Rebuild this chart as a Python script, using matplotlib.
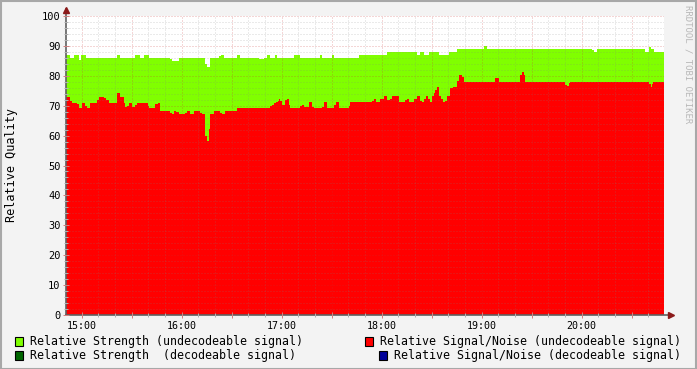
import numpy as np
import matplotlib
matplotlib.use('Agg')
import matplotlib.pyplot as plt
from matplotlib.patches import Rectangle

# time axis in minutes after 15:00
t_start, t_end = -9.4, 349.4

# Relative Strength (undecodeable signal): step change points
strength_t = [-9.4, -7.0, -4.6, -1.6, -0.4, 2.6, 21.2, 23.0, 32.0, 35.0, 37.4, 40.4,
              53.0, 54.2, 58.4, 74.0, 75.2, 77.0, 82.4, 83.6, 85.4, 93.2, 95.0,
              106.4, 109.4, 111.2, 113.0, 116.0, 117.2, 127.4, 131.0, 143.0, 144.2,
              150.2, 151.4, 166.4, 183.2, 201.2, 203.0, 205.4, 208.4, 214.4, 220.4,
              225.2, 241.4, 243.2, 306.2, 307.4, 309.2, 338.0, 340.4, 341.6, 343.4]
strength_v = [87, 86, 87, 85.3, 87, 86, 87, 86, 87, 86, 87, 86,
              85.5, 85, 86, 84, 83, 86, 86.5, 87, 86, 87, 86,
              85.5, 86, 87, 86, 87, 86, 87, 86, 87, 86,
              87, 86, 87, 88, 87, 88, 87, 88, 87, 88,
              89, 90, 89, 88.5, 88, 89, 88, 89.5, 89, 88]

# Relative Signal/Noise (undecodeable signal): step change points
snr_t = [-9.4, -7.0, -5.8, -2.8, -1.6, 0.2, 2.0, 3.2, 5.0, 9.2, 10.4, 13.4, 14.6,
         16.4, 21.2, 23.0, 25.4, 26.0, 27.2, 28.4, 30.2, 32.0, 33.2, 39.8, 40.4,
         44.0, 45.8, 47.0, 53.0, 54.2, 55.4, 56.6, 58.4, 62.0, 63.2, 65.0, 67.4,
         71.0, 72.2, 74.0, 75.2, 76.4, 77.0, 79.4, 83.0, 84.2, 86.0, 93.2,
         113.0, 114.2, 115.4, 116.6, 117.8, 118.4, 119.0, 120.2, 122.0, 123.2,
         124.4, 125.0, 131.0, 132.2, 133.4, 136.4, 138.2, 139.4, 144.2, 145.4,
         147.2, 151.4, 152.6, 154.4, 160.4, 161.0, 174.2, 175.4, 176.6, 179.0,
         181.4, 183.2, 185.0, 186.2, 190.4, 194.0, 195.2, 196.4, 199.4, 201.2,
         203.0, 204.2, 205.4, 206.6, 207.8, 209.0, 210.2, 211.4, 212.0, 213.2,
         214.4, 215.6, 216.8, 218.0, 219.2, 221.0, 222.8, 225.2, 226.4, 228.2,
         229.4, 248.0, 250.4, 263.0, 264.2, 265.4, 266.0, 290.0, 291.2, 292.4,
         293.0, 340.4, 341.6, 342.2, 342.8]
snr_v = [73, 71.5, 71, 70.5, 69.2, 71, 70, 69.2, 71, 72, 73, 72.7, 72,
         71, 74.2, 73, 71, 69.5, 70, 71, 69.5, 70.3, 71, 70, 69.2,
         70.7, 71, 68.2, 67.6, 67.3, 68.2, 67.9, 67.3, 67.6, 68.2, 67.3, 68.2,
         67.6, 67.3, 60, 58.2, 62.2, 67.3, 68.2, 67.6, 67.3, 68.2, 69.2,
         69.9, 70.2, 70.9, 71.2, 71.5, 72.2, 71.5, 70.2, 71.9, 72.2,
         70.2, 69.2, 69.9, 70.2, 69.6, 71.2, 69.6, 69.2, 69.6, 71.2,
         69.2, 70.2, 71.2, 69.2, 69.9, 71.2, 71.5, 72.2, 71.2, 72.2,
         73.2, 71.9, 72.2, 73.2, 71.2, 71.9, 72.2, 71.2, 72.2, 73.2,
         71.5, 71.2, 72.2, 73.2, 72.2, 71.2, 73.2, 74.2, 75.2, 76.3,
         73.2, 72.2, 71.2, 71.5, 73.2, 76, 76.3, 78.3, 80.3, 79.6,
         78, 79.3, 78, 80.3, 81.3, 80.3, 78, 77, 76.6, 77.6,
         78, 77.3, 76.3, 77.3, 78]

hour_labels = ['15:00', '16:00', '17:00', '18:00', '19:00', '20:00']

legend_left = ['Relative Strength (undecodeable signal)',
               'Relative Strength  (decodeable signal)']
legend_right = ['Relative Signal/Noise (undecodeable signal)',
                'Relative Signal/Noise (decodeable signal)']
col_left = ['#80ff00', '#006600']
col_right = ['#ff0000', '#000099']

mono = 'DejaVu Sans Mono'
W, H = 697, 369


def steps(t, v):
    return np.append(t, t_end), np.append(v, v[-1])


fig = plt.figure(figsize=(W / 100, H / 100), dpi=100, facecolor='#f3f3f3')
ax = fig.add_axes([66 / W, 1 - 315 / H, 598 / W, 299 / H])
ax.set_facecolor('white')

x, y = steps(strength_t, strength_v)
ax.fill_between(x, 0, y, step='post', color='#80ff00', lw=0, antialiased=False)
x, y = steps(snr_t, snr_v)
ax.fill_between(x, 0, y, step='post', color='#ff0000', lw=0, antialiased=False)

ax.set_xlim(t_start, t_end)
ax.set_ylim(0, 100)

major_x = np.arange(0, 331, 30)
ax.set_xticks(major_x)
ax.set_xticklabels([hour_labels[int(m // 60)] if m % 60 == 0 else '' for m in major_x],
                   fontfamily=mono, fontsize=7.2)
ax.set_xticks(np.arange(0, 341, 10), minor=True)
ax.set_yticks(np.arange(0, 101, 10))
ax.set_yticklabels([str(v) for v in range(0, 101, 10)], fontfamily=mono, fontsize=7.5)
ax.set_yticks(np.arange(0, 101, 2), minor=True)

ax.set_axisbelow(False)
ax.grid(which='minor', color='#808080', alpha=0.32, linestyle=(0, (1, 2)), lw=0.72)
ax.grid(which='major', color='#c83232', alpha=0.4, linestyle=(0, (1, 2)), lw=0.72)
ax.tick_params(which='major', direction='inout', length=4, width=0.72, color='#d08080',
               pad=2, labelcolor='black')
ax.tick_params(which='minor', direction='inout', length=3, width=0.72, color='#b0b0b0')

for s in ['top', 'right', 'bottom', 'left']:
    ax.spines[s].set_visible(False)
# axes lines with arrows, rrdtool style
ax.plot([0, 0], [0, 1.025], transform=ax.transAxes, color='#606060', lw=1.2, clip_on=False)
ax.plot([0, 1.012], [0, 0], transform=ax.transAxes, color='#606060', lw=1.2, clip_on=False)
ax.plot(0, 1.02, marker='^', ms=5, color='#8b1a1a', transform=ax.transAxes, clip_on=False)
ax.plot(1.012, 0, marker='>', ms=5, color='#8b1a1a', transform=ax.transAxes, clip_on=False)

fig.text(12 / W, 1 - 165 / H, 'Relative Quality', rotation=90, ha='center', va='center',
         fontfamily=mono, fontsize=8.5)
fig.text(688 / W, 1 - 5 / H, 'RRDTOOL / TOBI OETIKER', rotation=270, ha='center', va='top',
         fontfamily=mono, fontsize=6.5, color='#b8b8b8')

rows = [341, 355]
for i in range(2):
    yc = 1 - rows[i] / H
    fig.patches.append(Rectangle((15 / W, yc - 4.5 / H), 8 / W, 9 / H, transform=fig.transFigure,
                                 facecolor=col_left[i], edgecolor='black', lw=0.8))
    fig.text(30 / W, yc, legend_left[i], ha='left', va='center', fontfamily=mono, fontsize=8.4)
    fig.text(681 / W, yc, legend_right[i], ha='right', va='center', fontfamily=mono, fontsize=8.4)
    xs = 365 if i == 0 else 379
    fig.patches.append(Rectangle((xs / W, yc - 4.5 / H), 8 / W, 9 / H, transform=fig.transFigure,
                                 facecolor=col_right[i], edgecolor='black', lw=0.8))

# outer frame
fig.patches.append(Rectangle((0.5 / W, 0.5 / H), 1 - 1.5 / W, 1 - 1.5 / H, transform=fig.transFigure,
                             facecolor='none', edgecolor='#a8a8a8', lw=1.5))

fig.savefig('out.png', dpi=100, facecolor=fig.get_facecolor())
